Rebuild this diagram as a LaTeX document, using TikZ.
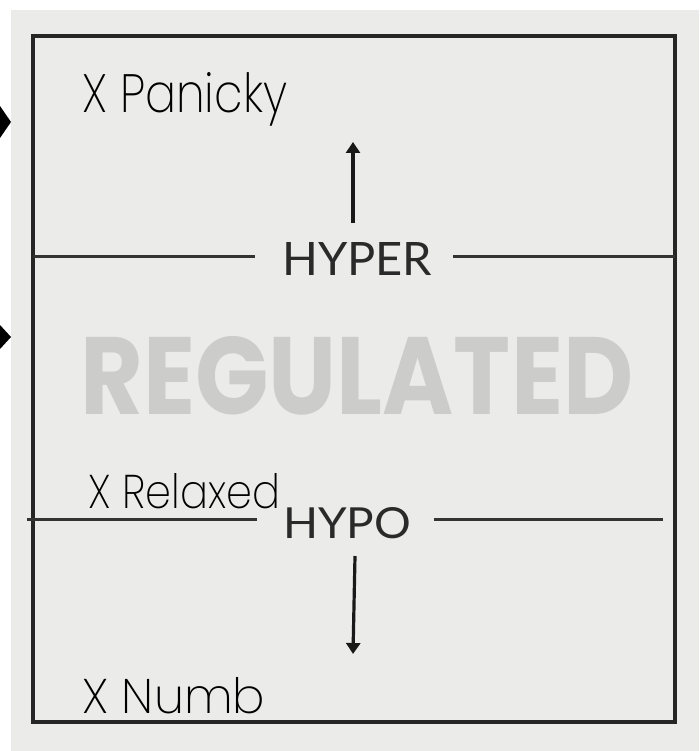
\documentclass[tikz,border=0pt]{standalone}
\usepackage{fontspec}
\usepackage{graphicx}
\usetikzlibrary{arrows.meta}
\setmainfont{Lato}
\newfontfamily\labelfont{Lato}
\newfontfamily\headfont{Poppins Bold}
\newfontfamily\handfont{Poppins ExtraLight}
\definecolor{panel}{HTML}{EBEBEA}
\definecolor{ink}{HTML}{2A2A2A}
\definecolor{ghost}{HTML}{CCCCCA}
\tikzset{
  frame/.style={draw=black!85, line width=3.8pt},
  divider/.style={draw=black!80, line width=3pt},
  pointer/.style={draw=black!90, line width=3.2pt, -{Triangle[width=14pt,length=11pt]}},
  levelword/.style={inner sep=0pt, anchor=south west, text=ink},
  handnote/.style={inner sep=0pt, anchor=base west, text=black},
}
\begin{document}
\begin{tikzpicture}[x=1pt,y=-1pt]
  \useasboundingbox (0,0) rectangle (699,751);
  \fill[white] (0,0) rectangle (699,751);
  \fill[panel] (11,10) rectangle (699,751);

  % side markers
  \fill[black] (0,106) -- (11,122) -- (0,138) -- cycle;
  \fill[black] (0,325) -- (11,337) -- (0,349) -- cycle;

  % outer frame
  \draw[frame] (33,36) rectangle (675,722);

  % watermark
  \node[inner sep=0pt, anchor=south west, text=ghost] (reg) at (80,415)
    {\resizebox{553pt}{78pt}{\headfont REGULATED}};

  % level labels
  \node[levelword] (hyper) at (282,276)
    {\resizebox{150pt}{33pt}{\labelfont HYPER}};
  \node[levelword] (hypo) at (283,539)
    {\resizebox{128pt}{31pt}{\labelfont HYPO}};

  % dividing lines
  \coordinate (hyL) at (33,256);  \coordinate (hyLe) at (255,256);
  \coordinate (hyRs) at (453,256); \coordinate (hyR) at (675,256);
  \draw[divider] (hyL) -- (hyLe);
  \draw[divider] (hyRs) -- (hyR);
  \coordinate (hoL) at (27,519);  \coordinate (hoLe) at (257,519);
  \coordinate (hoRs) at (434,519); \coordinate (hoR) at (663,519);
  \draw[divider] (hoL) -- (hoLe);
  \draw[divider] (hoRs) -- (hoR);

  % direction arrows
  \coordinate (upS) at (353,223); \coordinate (upE) at (353,142);
  \draw[pointer] (upS) -- (upE);
  \coordinate (dnS) at (355,556); \coordinate (dnE) at (353,654);
  \draw[pointer] (dnS) -- (dnE);

  % handwritten notes
  \node[handnote] (panicky) at (82,113) {\resizebox{205pt}{40pt}{\handfont X Panicky}};
  \node[handnote] (relaxed) at (88,508) {\resizebox{192pt}{35pt}{\handfont X Relaxed}};
  \node[handnote] (numb) at (82,713) {\resizebox{183pt}{36pt}{\handfont X Numb}};
\end{tikzpicture}
\end{document}
